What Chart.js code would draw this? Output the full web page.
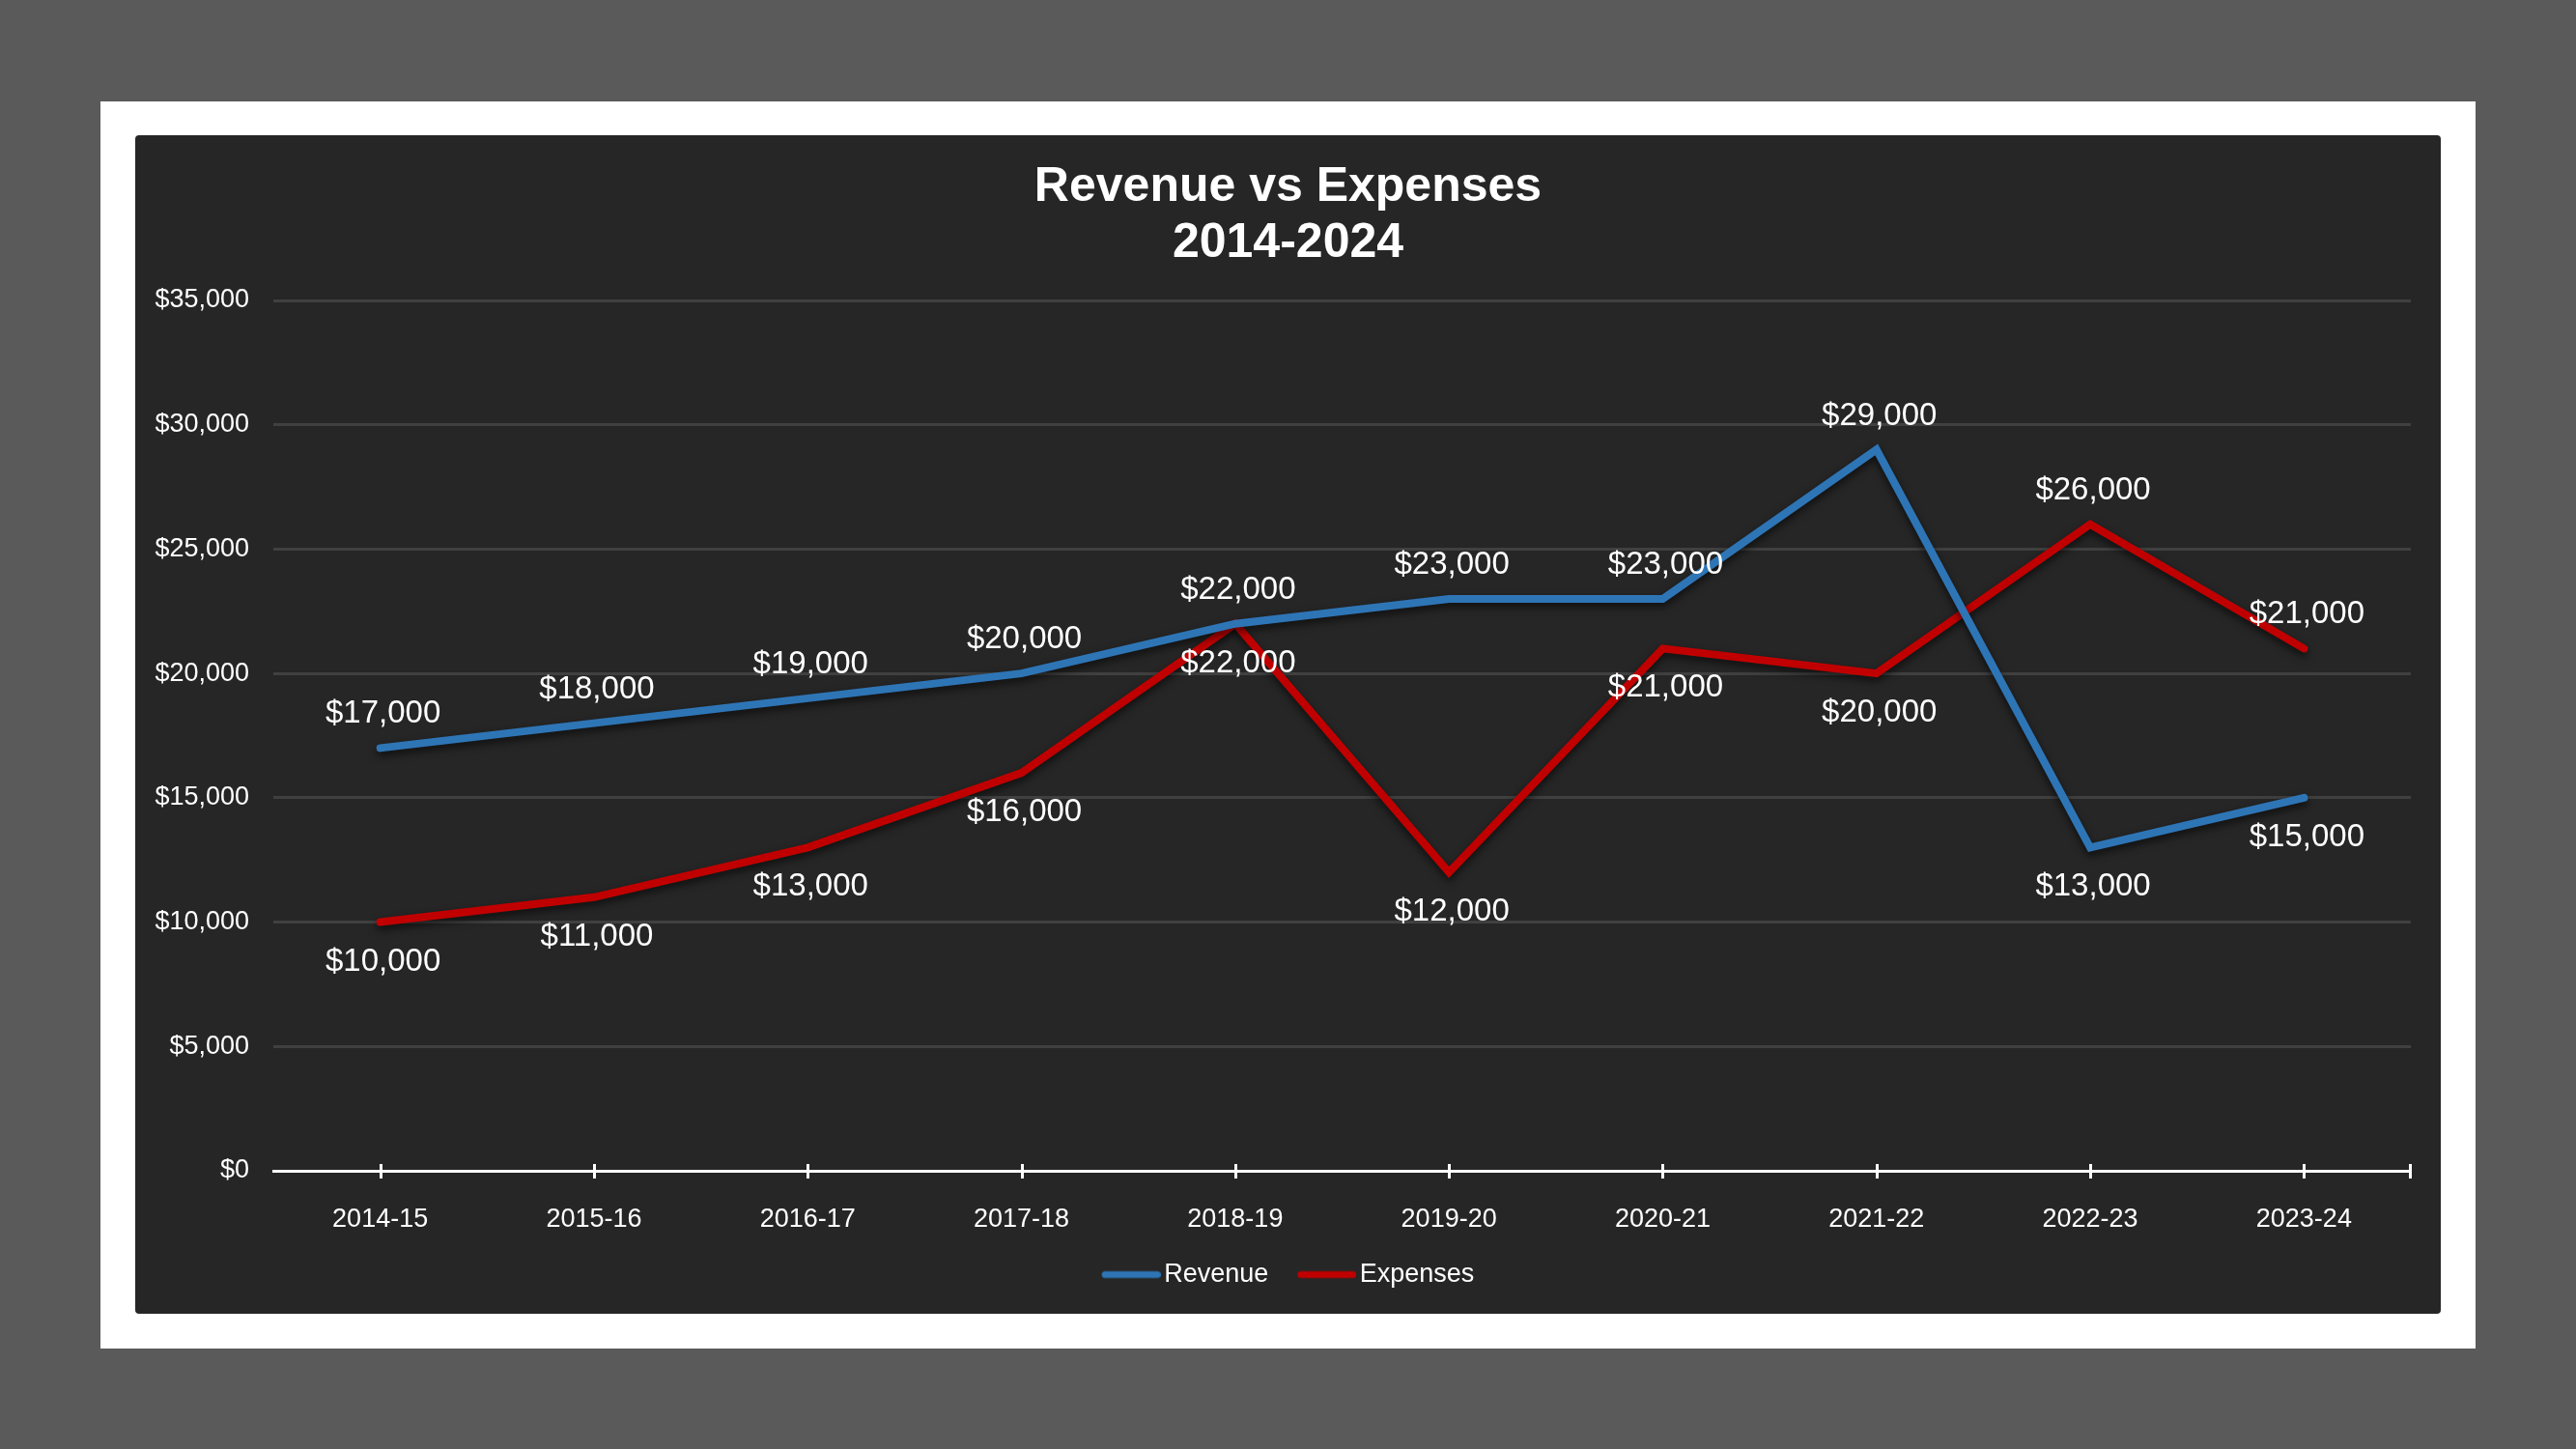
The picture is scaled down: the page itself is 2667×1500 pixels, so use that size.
<!DOCTYPE html>
<html>
<head>
<meta charset="utf-8">
<script src="https://cdn.jsdelivr.net/npm/chart.js@4/dist/chart.umd.min.js"></script>
<style>
  html, body { margin: 0; padding: 0; background: #5a5a5a; width: 2667px; height: 1500px; overflow: hidden; }
  #frame { position: absolute; left: 104px; top: 105px; width: 2459px; height: 1291px; background: #ffffff; }
  #panel { position: absolute; left: 140px; top: 140px; width: 2387px; height: 1220px; background: #262626; border-radius: 4px; }
  #c { position: absolute; left: 140px; top: 140px; }
</style>
</head>
<body>
<div id="frame"></div>
<div id="panel"></div>
<canvas id="c" width="2387" height="1220"></canvas>
<script>
const categories = ['2014-15', '2015-16', '2016-17', '2017-18', '2018-19', '2019-20', '2020-21', '2021-22', '2022-23', '2023-24'];
const revenue = [17000, 18000, 19000, 20000, 22000, 23000, 23000, 29000, 13000, 15000];
const expenses = [10000, 11000, 13000, 16000, 22000, 12000, 21000, 20000, 26000, 21000];
const revenueLabelPos = ['above', 'above', 'above', 'above', 'above', 'above', 'above', 'above', 'below', 'below'];
const expensesLabelPos = ['below', 'below', 'below', 'below', 'below', 'below', 'below', 'below', 'above', 'above'];
const titleLines = ['Revenue vs Expenses', '2014-2024'];
const yMin = 0, yMax = 35000, yStep = 5000;

const FONT = "'Liberation Sans', Arial, Helvetica, sans-serif";
const fmt = v => '$' + Number(v).toLocaleString('en-US');

// legend swatch: a short rounded line, drawn so that it sits close to its label
function legendSwatch(color) {
  const c = document.createElement('canvas');
  c.width = 71; c.height = 12;
  const g = c.getContext('2d');
  g.strokeStyle = color;
  g.lineWidth = 7;
  g.lineCap = 'round';
  g.beginPath();
  g.moveTo(13.5, 6);
  g.lineTo(67.5, 6);
  g.stroke();
  return c;
}

const shadowPlugin = {
  id: 'lineShadow',
  beforeDatasetDraw(chart) {
    const ctx = chart.ctx;
    ctx.save();
    ctx.shadowColor = 'rgba(0,0,0,0.65)';
    ctx.shadowBlur = 8;
    ctx.shadowOffsetX = 0;
    ctx.shadowOffsetY = 4;
  },
  afterDatasetDraw(chart) {
    chart.ctx.restore();
  }
};

const labelPlugin = {
  id: 'valueLabels',
  afterDatasetsDraw(chart) {
    const ctx = chart.ctx;
    const positions = [revenueLabelPos, expensesLabelPos];
    ctx.save();
    ctx.font = '33px ' + FONT;
    ctx.fillStyle = '#ffffff';
    ctx.textAlign = 'center';
    ctx.textBaseline = 'middle';
    chart.data.datasets.forEach((ds, di) => {
      const meta = chart.getDatasetMeta(di);
      meta.data.forEach((pt, i) => {
        const off = positions[di][i] === 'above' ? -35 : 41;
        ctx.fillText(fmt(ds.data[i]), pt.x + 3, pt.y + off);
      });
    });
    ctx.restore();
  }
};

const tickPlugin = {
  id: 'crossTicks',
  afterDraw(chart) {
    const xs = chart.scales.x;
    const ctx = chart.ctx;
    const yb = chart.chartArea.bottom;
    ctx.save();
    ctx.strokeStyle = '#ffffff';
    ctx.lineWidth = 3;
    ctx.beginPath();
    for (let i = 0; i < xs.ticks.length; i++) {
      const x = Math.round(xs.getPixelForTick(i)) + 0.5;
      ctx.moveTo(x, yb - 7);
      ctx.lineTo(x, yb + 8);
    }
    const xr = Math.round(xs.right) - 0.5;
    ctx.moveTo(xr, yb - 7);
    ctx.lineTo(xr, yb + 8);
    ctx.stroke();
    ctx.restore();
  }
};

new Chart(document.getElementById('c'), {
  type: 'line',
  data: {
    labels: categories,
    datasets: [
      { label: 'Revenue', data: revenue, borderColor: '#2e75b6', backgroundColor: '#2e75b6', borderWidth: 8,
        pointRadius: 0, pointHoverRadius: 0, tension: 0, borderJoinStyle: 'miter', borderCapStyle: 'round',
        pointStyle: legendSwatch('#2e75b6') },
      { label: 'Expenses', data: expenses, borderColor: '#c00000', backgroundColor: '#c00000', borderWidth: 8,
        pointRadius: 0, pointHoverRadius: 0, tension: 0, borderJoinStyle: 'miter', borderCapStyle: 'round',
        pointStyle: legendSwatch('#c00000') }
    ]
  },
  options: {
    responsive: false,
    animation: false,
    devicePixelRatio: 1,
    layout: { padding: { left: 0, right: 0, top: 0, bottom: 17 } },
    plugins: {
      title: {
        display: true,
        text: titleLines,
        color: '#ffffff',
        font: { family: FONT, size: 50, weight: 'bold', lineHeight: 1.16 },
        padding: { top: 25, bottom: 30 }
      },
      legend: {
        position: 'bottom',
        labels: {
          color: '#ffffff',
          font: { family: FONT, size: 27 },
          usePointStyle: true,
          pointStyleWidth: 51,
          padding: 30
        }
      },
      tooltip: { enabled: false }
    },
    scales: {
      x: {
        offset: true,
        grid: { display: true, drawOnChartArea: false, drawTicks: false, offset: false },
        border: { display: true, color: '#ffffff', width: 3 },
        ticks: { color: '#ffffff', font: { family: FONT, size: 27 }, padding: 34, maxRotation: 0, autoSkip: false },
        afterFit(s) { s.height = 64; }
      },
      y: {
        min: yMin, max: yMax,
        grid: {
          color: ctx => (ctx.tick && ctx.tick.value === 0) ? 'rgba(0,0,0,0)' : '#404040',
          lineWidth: 3, drawTicks: false
        },
        border: { display: false },
        ticks: { stepSize: yStep, color: '#ffffff', font: { family: FONT, size: 27 }, padding: 25, callback: v => fmt(v) },
        afterFit(s) { s.width = 143; }
      },
      yRight: {
        position: 'right',
        display: true,
        grid: { display: false, drawTicks: false },
        border: { display: false },
        ticks: { display: false },
        afterFit(s) { s.width = 31; }
      }
    }
  },
  plugins: [shadowPlugin, labelPlugin, tickPlugin]
});
</script>
</body>
</html>
